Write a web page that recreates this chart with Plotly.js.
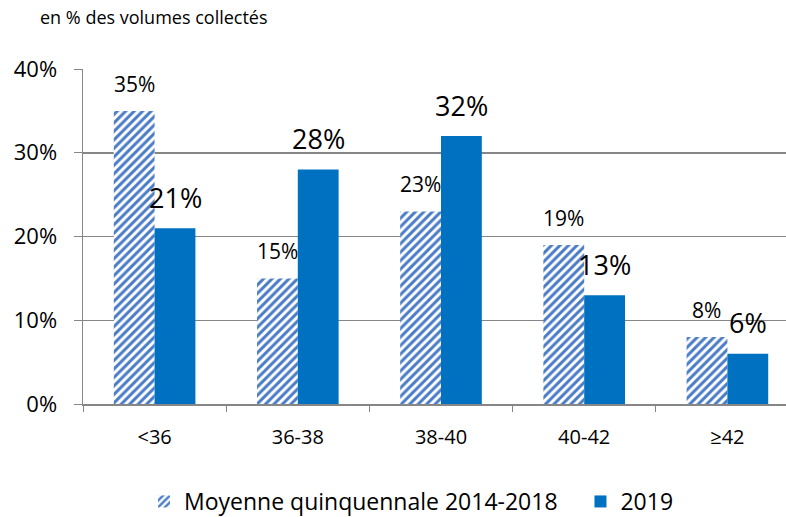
<!DOCTYPE html>
<html>
<head>
<meta charset="utf-8">
<script src="https://cdn.plot.ly/plotly-3.0.1.min.js"></script>
<style>
  html, body { margin: 0; padding: 0; overflow: hidden; background: #fff; }
</style>
</head>
<body>
<div id="plot"></div>
<script>
// data
var categories = ["<36", "36-38", "38-40", "40-42", "≥42"];
var moyenne = [35, 15, 23, 19, 8];   // Moyenne quinquennale 2014-2018
var annee2019 = [21, 28, 32, 13, 6];  // 2019

var font = "'Open Sans', sans-serif";

var trace1 = {
  x: categories,
  y: moyenne,
  type: "bar",
  // trailing nbsp widen the gap between the two legend entries
  name: "Moyenne quinquennale 2014-2018\u00a0\u00a0\u00a0",
  marker: {
    color: "#ffffff",
    line: { width: 0 },
    pattern: { shape: "/", fgcolor: "#4a7cc6", bgcolor: "#ffffff", size: 6, solidity: 0.5 }
  },
  hoverinfo: "none"
};

var trace2 = {
  x: categories,
  y: annee2019,
  type: "bar",
  name: "2019",
  marker: { color: "#0070c0", line: { width: 0 } },
  hoverinfo: "none"
};

// value labels sit above the bars, like in the original
var annotations = [];
categories.forEach(function (c, i) {
  annotations.push({
    x: i - 0.143, y: moyenne[i], xref: "x", yref: "y",
    text: moyenne[i] + "%", showarrow: false,
    yanchor: "middle", yshift: 27,
    font: { family: font, size: 21, color: "#000" }
  });
  annotations.push({
    x: i + 0.143, y: annee2019[i], xref: "x", yref: "y",
    text: annee2019[i] + "%", showarrow: false,
    yanchor: "middle", yshift: 31,
    font: { family: font, size: 27, color: "#000" }
  });
});

var layout = {
  width: 800,
  height: 517,
  margin: { l: 83, r: 1, t: 69, b: 113 },
  barmode: "group",
  bargap: 0.43,
  bargroupgap: 0,
  paper_bgcolor: "#ffffff",
  plot_bgcolor: "#ffffff",
  font: { family: font, color: "#000" },
  title: {
    text: "en % des volumes collectés",
    font: { family: font, size: 18, color: "#000" },
    xref: "container", yref: "container",
    x: 0.05, xanchor: "left",
    y: 0.965, yanchor: "middle"
  },
  xaxis: {
    type: "category",
    automargin: false,
    showline: true,
    linecolor: "#868686",
    linewidth: 1.5,
    ticks: "outside",
    tickson: "boundaries",
    ticklen: 6,
    tickcolor: "#868686",
    ticklabelstandoff: 14,
    tickfont: { family: font, size: 20, color: "#000" },
    showgrid: false
  },
  yaxis: {
    range: [0, 40],
    dtick: 10,
    ticksuffix: "%",
    automargin: false,
    showline: true,
    linecolor: "#868686",
    linewidth: 1.5,
    ticks: "outside",
    ticklen: 8,
    tickcolor: "#868686",
    ticklabelstandoff: 12,
    showgrid: true,
    gridcolor: "#868686",
    gridwidth: 1.5,
    zeroline: false,
    tickfont: { family: font, size: 22, color: "#000" }
  },
  legend: {
    orientation: "h",
    xref: "container", yref: "container",
    x: 0.18, xanchor: "left",
    y: 0.03, yanchor: "middle",
    font: { family: font, size: 23, color: "#000" },
    itemwidth: 30
  },
  annotations: annotations,
  showlegend: true
};

Plotly.newPlot("plot", [trace1, trace2], layout, { displayModeBar: false, staticPlot: true });
</script>
</body>
</html>
